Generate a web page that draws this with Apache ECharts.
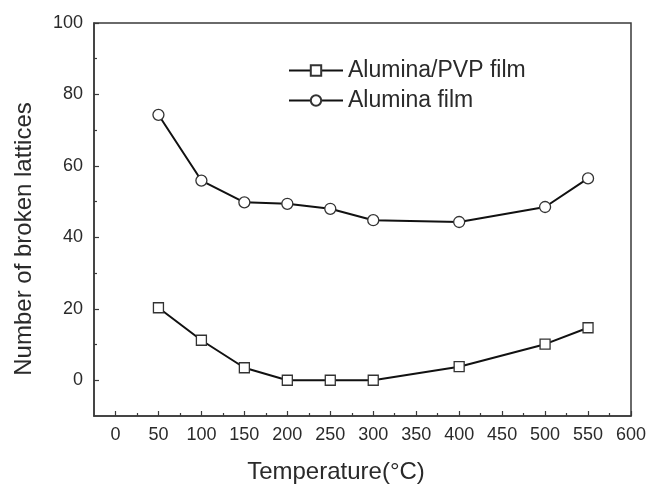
<!DOCTYPE html>
<html>
<head>
<meta charset="utf-8">
<script src="https://cdn.jsdelivr.net/npm/echarts@6/dist/echarts.min.js"></script>
<style>
  html, body { margin: 0; padding: 0; background: #fff; }
  #chart { width: 648px; height: 485px; }
</style>
</head>
<body>
<div id="chart"></div>
<script>
// Temperatures (°C) at which the lattices were counted
const temperatures = [50, 100, 150, 200, 250, 300, 400, 500, 550];
// Number of broken lattices per film type
const pvpFilm = [20.3, 11.2, 3.5, 0, 0, 0, 3.8, 10.1, 14.7];
const aluminaFilm = [74.3, 55.9, 49.8, 49.4, 48.0, 44.8, 44.3, 48.5, 56.5];
const seriesNames = ['Alumina/PVP film', 'Alumina film'];

// Axis tick values
const xMajorTicks = [0, 50, 100, 150, 200, 250, 300, 350, 400, 450, 500, 550, 600];
const xMinorTicks = [25, 75, 125, 175, 225, 275, 325, 375, 425, 475, 525, 575];
const yMajorTicks = [0, 20, 40, 60, 80, 100];
const yMinorTicks = [10, 30, 50, 70, 90];

const FONT = '"Liberation Sans", Arial, sans-serif';
const INK = '#2a2a2a';
const FRAME = '#3a3a3a';

const pairs = (xs, ys) => xs.map((x, i) => [x, ys[i]]);

const chart = echarts.init(document.getElementById('chart'), null, { renderer: 'canvas' });

const xBase = { type: 'value', min: -25, max: 600, gridIndex: 0, position: 'bottom' };
const yBase = { type: 'value', min: -10, max: 100, gridIndex: 0, position: 'left' };
const tickLine = { color: FRAME, width: 1.2 };

chart.setOption({
  animation: false,
  backgroundColor: '#fff',
  grid: {
    left: 94, right: 17, top: 23, bottom: 69,
    containLabel: false,
    outerBoundsMode: 'none',
    show: true, borderColor: FRAME, borderWidth: 1.5, backgroundColor: 'transparent'
  },
  legend: {
    orient: 'vertical',
    left: 283, top: 54,
    itemWidth: 54, itemHeight: 13, itemGap: 7,
    textStyle: { fontFamily: FONT, fontSize: 23, color: INK },
    data: seriesNames
  },
  xAxis: [
    Object.assign({}, xBase, {
      name: 'Temperature(°C)',
      nameLocation: 'middle',
      nameGap: 44,
      nameTextStyle: { fontFamily: FONT, fontSize: 24, color: INK, padding: [0, 53, 0, 0] },
      axisLine: { show: true, onZero: false, lineStyle: { color: FRAME, width: 1.5 } },
      axisTick: { show: true, inside: true, length: 5, customValues: xMajorTicks, lineStyle: tickLine },
      axisLabel: { customValues: xMajorTicks, fontFamily: FONT, fontSize: 18, color: INK, margin: 10 },
      splitLine: { show: false }
    }),
    Object.assign({}, xBase, {
      axisLine: { show: false, onZero: false },
      axisTick: { show: true, inside: true, length: 3, customValues: xMinorTicks, lineStyle: tickLine },
      axisLabel: { show: false },
      splitLine: { show: false }
    })
  ],
  yAxis: [
    Object.assign({}, yBase, {
      name: 'Number of broken lattices',
      nameLocation: 'middle',
      nameRotate: 90,
      nameGap: 58,
      nameTextStyle: { fontFamily: FONT, fontSize: 24, color: INK, padding: [0, 39, 0, 0] },
      axisLine: { show: true, onZero: false, lineStyle: { color: FRAME, width: 1.5 } },
      axisTick: { show: true, inside: true, length: 5, customValues: yMajorTicks, lineStyle: tickLine },
      axisLabel: { customValues: yMajorTicks, fontFamily: FONT, fontSize: 18, color: INK, margin: 11 },
      splitLine: { show: false }
    }),
    Object.assign({}, yBase, {
      axisLine: { show: false, onZero: false },
      axisTick: { show: true, inside: true, length: 3, customValues: yMinorTicks, lineStyle: tickLine },
      axisLabel: { show: false },
      splitLine: { show: false }
    })
  ],
  series: [
    {
      name: seriesNames[0],
      type: 'line',
      data: pairs(temperatures, pvpFilm),
      symbol: 'rect',
      symbolSize: 10,
      showAllSymbol: true,
      lineStyle: { color: '#111', width: 2 },
      itemStyle: { color: '#fff', borderColor: '#333', borderWidth: 1.3 }
    },
    {
      name: seriesNames[1],
      type: 'line',
      data: pairs(temperatures, aluminaFilm),
      symbol: 'circle',
      symbolSize: 11,
      showAllSymbol: true,
      lineStyle: { color: '#111', width: 2 },
      itemStyle: { color: '#fff', borderColor: '#333', borderWidth: 1.3 }
    }
  ]
});
</script>
</body>
</html>
